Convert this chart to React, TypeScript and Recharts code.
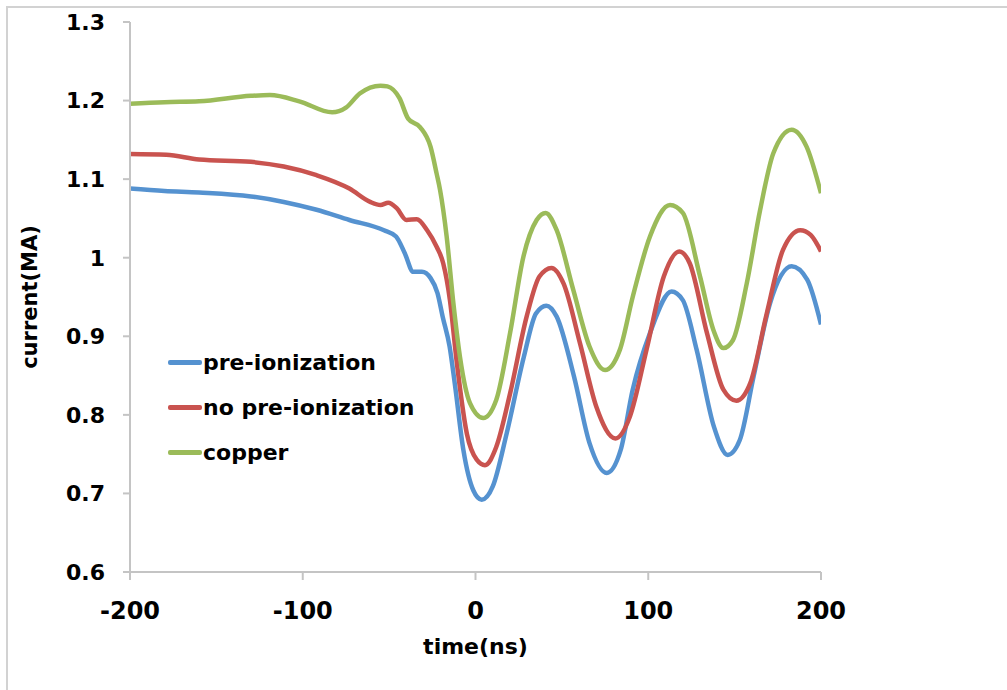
import React from 'react';
import { LineChart, Line, XAxis, YAxis, Legend } from 'recharts';

// time (ns) / current (MA)
const preIonization: [number, number][] = [
  [-200, 1.088], [-180, 1.085], [-160, 1.083], [-130, 1.078], [-111, 1.071], [-92, 1.061],
  [-73, 1.048], [-53, 1.035], [-46, 1.027], [-41, 1.006], [-36, 0.982], [-31, 0.982],
  [-26, 0.974], [-22, 0.955], [-19, 0.925], [-15, 0.887], [-12, 0.84], [-7, 0.755],
  [-1.3, 0.704], [3.6, 0.692], [10, 0.709], [18, 0.776], [28, 0.874], [35, 0.929],
  [41, 0.939], [47, 0.925], [57, 0.849], [66, 0.764], [76, 0.726], [84, 0.755],
  [91, 0.832], [101, 0.904], [113.5, 0.957], [120, 0.946], [128, 0.883], [138, 0.785],
  [146, 0.749], [153, 0.768], [161, 0.849], [170.5, 0.942], [183, 0.989], [192, 0.972],
  [200, 0.915],
];

const noPreIonization: [number, number][] = [
  [-200, 1.132], [-179, 1.131], [-160, 1.125], [-130, 1.122], [-111, 1.116], [-92, 1.105],
  [-73, 1.088], [-61, 1.071], [-55, 1.067], [-50.5, 1.07], [-45.6, 1.063], [-40, 1.048],
  [-34, 1.049], [-28, 1.035], [-22.5, 1.014], [-18.7, 0.993], [-14.8, 0.946], [-11, 0.87],
  [-5, 0.776], [0.7, 0.743], [5.5, 0.736], [12, 0.759], [20, 0.827], [29.6, 0.925],
  [37, 0.976], [44, 0.987], [51, 0.967], [60.5, 0.891], [70, 0.81], [81, 0.77],
  [89.4, 0.798], [99, 0.883], [109, 0.976], [118, 1.008], [124, 0.993], [134, 0.904],
  [143.5, 0.832], [151, 0.818], [159, 0.84], [168.6, 0.929], [178, 1.01], [188, 1.035],
  [194, 1.029], [200, 1.008],
];

const copper: [number, number][] = [
  [-200, 1.196], [-180, 1.198], [-160, 1.199], [-130, 1.206], [-119, 1.207], [-102, 1.199],
  [-83, 1.185], [-75, 1.191], [-67, 1.209], [-55, 1.219], [-51, 1.218], [-44, 1.203],
  [-39, 1.177], [-32, 1.166], [-26, 1.141], [-22.5, 1.107], [-20.5, 1.086], [-16.7, 1.027],
  [-12.8, 0.942], [-9, 0.874], [-3.2, 0.815], [4.5, 0.796], [12, 0.819], [20, 0.904],
  [27.7, 1.001], [35.4, 1.048], [40.6, 1.057], [47, 1.035], [56.6, 0.959], [66, 0.887],
  [75, 0.857], [83.6, 0.883], [91, 0.95], [101, 1.027], [112.6, 1.067], [120, 1.057],
  [130, 0.976], [137.7, 0.908], [143.5, 0.885], [149, 0.895], [157, 0.967], [164.7, 1.06],
  [172.4, 1.133], [183, 1.163], [191.7, 1.141], [200, 1.082],
];

const seriesNames = ['pre-ionization', 'no pre-ionization', 'copper'];
const seriesColors = ['#5592d0', '#c9534f', '#9bbb59'];
const xTicks = [-200, -100, 0, 100, 200];
const yTicks = [0.6, 0.7, 0.8, 0.9, 1, 1.1, 1.2, 1.3];

const FONT = '"DejaVu Sans", Arial, sans-serif';
const AXIS = '#c4c4c4';

const toRows = (pts: [number, number][]) => pts.map(([t, v]) => ({ t, v }));

// keep the legend in series order (pre-ionization first)
const renderLegend = () => (
  <div style={{ fontFamily: FONT, fontWeight: 'bold', fontSize: 22, color: '#000' }}>
    {seriesNames.map((name, i) => (
      <div key={name} style={{ display: 'flex', alignItems: 'center', height: 45 }}>
        <span style={{ display: 'inline-block', width: 34, height: 5, borderRadius: 2, background: seriesColors[i] }} />
        <span style={{ marginLeft: 1 }}>{name}</span>
      </div>
    ))}
  </div>
);

export default function App() {
  const all = [preIonization, noPreIonization, copper];
  return (
    <div style={{ position: 'absolute', left: 0, top: 0, width: 1007, height: 690, background: '#fff' }}>
      <div
        style={{
          position: 'absolute', left: 6, top: 6, width: 1001, height: 684,
          borderLeft: '2px solid #d2d2d2', borderTop: '2px solid #d2d2d2', boxSizing: 'border-box',
        }}
      />
      <div style={{ position: 'absolute', left: 0, top: 0 }}>
        <LineChart width={1007} height={690} margin={{ top: 22, right: 186, left: 0, bottom: 0 }}>
          <XAxis
            type="number"
            dataKey="t"
            domain={[-200, 200]}
            ticks={xTicks}
            allowDataOverflow
            height={118}
            stroke={AXIS}
            strokeWidth={2}
            tickSize={8}
            tickMargin={22}
            tick={{ fill: '#000', fontSize: 24, fontWeight: 'bold', fontFamily: FONT }}
            label={{
              value: 'time(ns)', position: 'insideTop', offset: 66,
              style: { fill: '#000', fontSize: 22, fontWeight: 'bold', fontFamily: FONT },
            }}
          />
          <YAxis
            type="number"
            domain={[0.6, 1.3]}
            ticks={yTicks}
            allowDataOverflow
            width={130}
            stroke={AXIS}
            strokeWidth={2}
            tickSize={7}
            tickMargin={18}
            tickFormatter={(v: number) => String(v)}
            tick={{ fill: '#000', fontSize: 22, fontWeight: 'bold', fontFamily: FONT }}
            label={{
              value: 'current(MA)', angle: -90, position: 'insideLeft', offset: 30,
              style: { fill: '#000', fontSize: 21, fontWeight: 'bold', fontFamily: FONT, textAnchor: 'middle' },
            }}
          />
          <Legend
            layout="vertical"
            align="center"
            verticalAlign="middle"
            content={renderLegend}
            wrapperStyle={{ left: 168, top: 340, width: 300 }}
          />
          {all.map((pts, i) => (
            <Line
              key={seriesNames[i]}
              name={seriesNames[i]}
              data={toRows(pts)}
              dataKey="v"
              type="monotone"
              stroke={seriesColors[i]}
              strokeWidth={4.5}
              dot={false}
              activeDot={false}
              isAnimationActive={false}
            />
          ))}
        </LineChart>
      </div>
    </div>
  );
}
